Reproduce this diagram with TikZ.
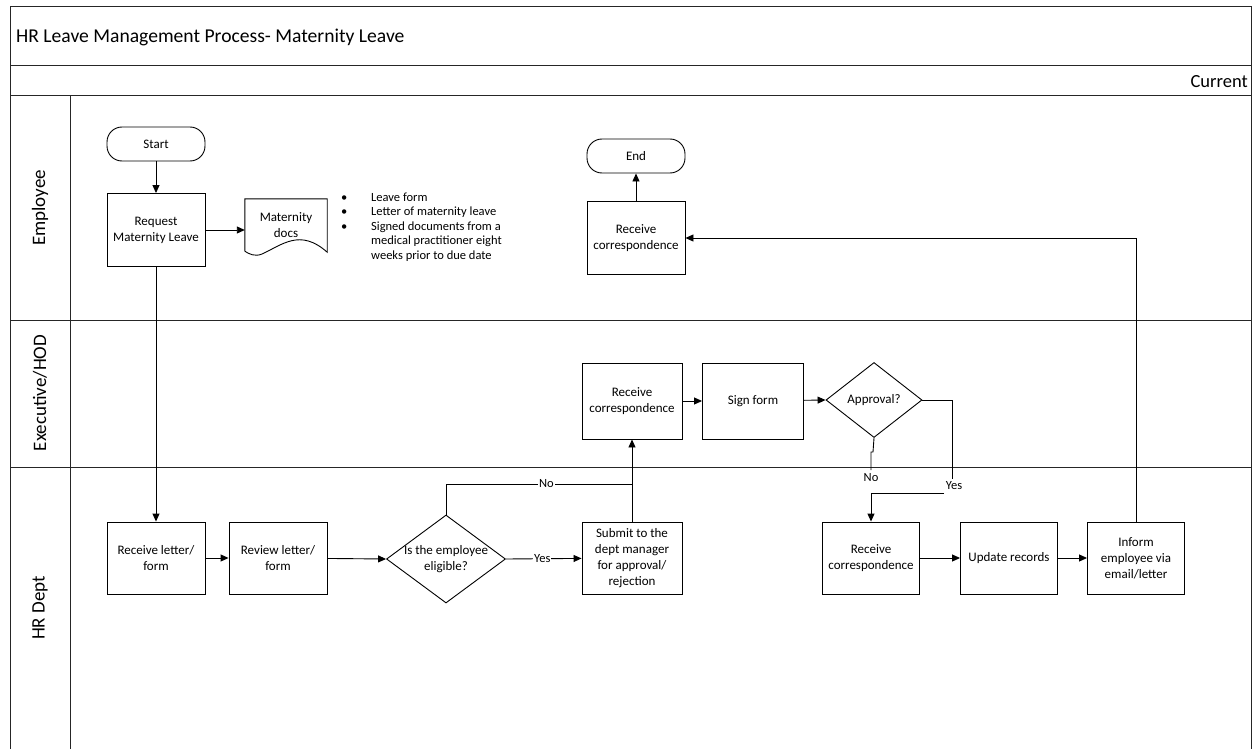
\documentclass[tikz,border=0pt]{standalone}
\usepackage{fontspec}
\setmainfont{Carlito}
\usetikzlibrary{shapes.geometric,arrows.meta}
\newcommand{\fsz}[1]{\fontsize{#1}{1.22\dimexpr#1pt\relax}\selectfont}
\tikzset{
  frame/.style={draw=black!85, line width=1pt},
  proc/.style={draw, line width=0.9pt, minimum width=98pt, minimum height=73pt,
    align=center, inner sep=2pt, font=\fsz{13}},
  term/.style={draw, line width=0.9pt, rounded corners=15pt, minimum width=98pt,
    minimum height=34pt, font=\fsz{13}},
  dec/.style={draw, diamond, line width=0.9pt, inner sep=0pt},
  dectext/.style={align=center, inner sep=0pt, font=\fsz{13}},
  conn/.style={line width=0.9pt},
  arr/.style={conn, -{Triangle[length=8pt,width=7pt]}},
  lbl/.style={fill=white, inner sep=1pt, font=\fsz{12.5}},
  lane/.style={rotate=90, font=\fsz{19}},
}
\begin{document}
\begin{tikzpicture}[x=1pt,y=-1pt]
\useasboundingbox (0,0) rectangle (1253,749);
\fill[white] (0,0) rectangle (1253,749);

% pool frame, header rows and swimlanes
\draw[frame] (10,749) -- (10,7) -- (1251,7) -- (1251,749);
\draw[frame] (10,66) -- (1251,66);
\draw[frame] (10,96) -- (1251,96);
\draw[frame] (10,320) -- (1251,320);
\draw[frame] (10,467) -- (1251,467);
\draw[frame] (70,96) -- (70,749);

\node[anchor=west, font=\fsz{19.6}, inner sep=0pt] (title) at (16,37) {HR Leave Management Process- Maternity Leave};
\node[anchor=east, font=\fsz{18.5}, inner sep=0pt] (phase) at (1248,82) {Current};
\node[lane] (laneemp) at (40,208) {Employee};
\node[lane] (laneexec) at (40,393) {Executive/HOD};
\node[lane] (lanehr) at (40,608) {HR Dept};

% Employee lane
\node[term] (start) at (156,144) {Start};
\node[proc] (req) at (156,230) {Request\\Maternity Leave};
\node[minimum width=82pt, minimum height=52pt, inner sep=0pt, align=center,
      font=\fsz{13}] (docs) at (286,225) {Maternity\\docs};
\draw[line width=0.9pt] (docs.south west) -- (docs.north west) -- (docs.north east)
  -- ([yshift=-1pt]docs.south east)
  .. controls (300,228) and (282,245) .. (262,254)
  .. controls (255,257) and (249,254) .. (docs.south west);
\node[anchor=west, align=left, inner sep=0pt,
      font=\fontsize{12.5}{14.5}\selectfont] (doclist) at (341,227)
  {\makebox[30pt][l]{\textbullet}Leave form\\
   \makebox[30pt][l]{\textbullet}Letter of maternity leave\\
   \makebox[30pt][l]{\textbullet}Signed documents from a\\
   \makebox[30pt][l]{}medical practitioner eight\\
   \makebox[30pt][l]{}weeks prior to due date};
\node[term] (end) at (636,156) {End};
\node[proc] (recvemp) at (636,238) {Receive\\correspondence};

% Executive/HOD lane
\node[proc, minimum width=100pt, minimum height=76pt] (recvexec) at (632,401) {Receive\\correspondence};
\node[proc, minimum width=101pt, minimum height=76pt] (sign) at (753,401) {Sign form};
\node[dec, minimum width=96pt, minimum height=75pt] (appr) at (874,400) {};
\node[dectext] (apprt) at (appr) {Approval?};

% HR Dept lane
\node[proc, minimum height=72pt] (recvl) at (156,558) {Receive letter/\\form};
\node[proc, minimum height=72pt] (review) at (278,558) {Review letter/\\form};
\node[dec, minimum width=119pt, minimum height=88pt] (elig) at (446,559) {};
\node[dectext] (eligt) at (elig) {Is the employee\\eligible?};
\node[proc, minimum width=100pt, minimum height=72pt] (submit) at (632,558) {Submit to the\\dept manager\\for approval/\\rejection};
\node[proc, minimum width=97pt, minimum height=72pt] (recvhr) at (871,558) {Receive\\correspondence};
\node[proc, minimum width=97pt, minimum height=72pt] (update) at (1009,558) {Update records};
\node[proc, minimum width=97pt, minimum height=72pt] (inform) at (1136,558) {Inform\\employee via\\email/letter};

% flow
\draw[arr] (start) -- (req);
\draw[arr] (req.east) -- (req.east -| docs.west);
\draw[arr] (req) -- (recvl);
\draw[arr] (recvl) -- (review);
\draw[arr] (review) -- (elig.west);
\draw[arr] (elig.east) -- node[lbl, pos=0.48]{Yes} (submit);
\coordinate (nojoin) at (632,484);
\draw[conn] (elig.north) |- node[lbl, pos=0.77]{No} (nojoin);
\draw[arr] (submit.north) -- (recvexec.south);
\draw[arr] (recvexec) -- (sign);
\draw[arr] (sign) -- (appr.west);

% approval outcomes merge above the HR receipt step
\coordinate (nobend) at (873,452);
\coordinate (merge) at (871,493);
\draw[conn] (appr.south) -- (nobend) -- ++(-2,0) -- (871,470);
\node[font=\fsz{12.5}, inner sep=0pt] (nolbl) at (871,478) {No};
\coordinate (yesend) at (952,479);
\draw[conn] (appr.east) -| (yesend);
\node[font=\fsz{12.5}, inner sep=0pt] (yeslbl) at (954,486) {Yes};
\coordinate (yesfoot) at (944,493);
\draw[conn] (yesfoot) -- (merge);
\draw[arr] (merge) -- (recvhr.north);
\draw[arr] (recvhr) -- (update);
\draw[arr] (update) -- (inform);
\draw[arr] (inform.north) |- (recvemp.east);
\draw[arr] (recvemp) -- (end);
\end{tikzpicture}
\end{document}
